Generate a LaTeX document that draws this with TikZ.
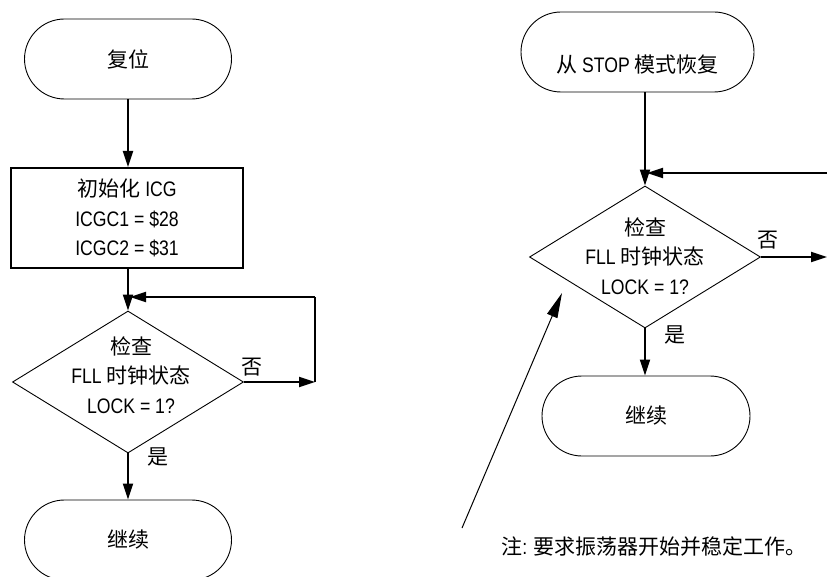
\documentclass[tikz,border=0pt]{standalone}
\usepackage{fontspec}
\setmainfont{Liberation Sans}[FakeStretch=0.84]
\newfontfamily\cjk{Noto Sans CJK SC}
\newcommand{\zh}[1]{{\cjk #1}}
\usetikzlibrary{shapes.geometric,arrows.meta}
\begin{document}
\begin{tikzpicture}[x=1pt,y=-1pt,
  every node/.style={font=\fontsize{21}{29.5}\selectfont, inner sep=0pt},
  term/.style={draw, line width=0.9pt, rounded corners=40pt, minimum height=80pt},
  procbox/.style={draw, line width=2pt, minimum width=232pt, minimum height=100pt, align=center},
  dia/.style={draw, diamond, line width=0.9pt, minimum width=231pt, minimum height=142pt, inner sep=0pt},
  ttext/.style={align=center},
  conn/.style={line width=2pt, -{Triangle[length=16pt,width=10pt]}},
  plain/.style={line width=2pt},
  notearrow/.style={line width=1pt, -{Triangle[length=25pt,width=11pt]}}
]
\useasboundingbox (0,0) rectangle (827,577);

% ---------- left flow ----------
\node[term, minimum width=207pt] (t1) at (128,59) {\zh{复位}};
\node[procbox] (r1) at (127,218) {\zh{初始化} ICG\\ICGC1 = \$28\\ICGC2 = \$31};
\node[dia] (d1) at (128,382) {};
\node[ttext] (d1t) at (131,375) {\zh{检查}\\FLL \zh{时钟状态}\\LOCK = 1?};
\node[term, minimum width=207pt] (t2) at (128,540) {\zh{继续}};

\coordinate (l1a) at (315,382);
\coordinate (l1b) at (315,297);
\coordinate (l1c) at (130,297);

\draw[conn] (t1.south -| d1.north) -- (r1.north -| d1.north);
\draw[conn] (r1.south -| d1.north) -- (d1.north);
\draw[conn] (d1.east) -- (l1a);
\draw[plain] (l1a) -- (l1b);
\draw[conn] (l1b) -- (l1c);
\draw[conn] (d1.south) -- (t2.north -| d1.south);

\node (no1) at (252,367) {\zh{否}};
\node (yes1) at (158,457) {\zh{是}};

% ---------- right flow ----------
\node[term, minimum width=233pt] (t3) at (637.5,52) {};
\node[ttext] (t3t) at (637.5,65) {\zh{从} STOP \zh{模式恢复}};
\node[dia] (d2) at (645,257) {};
\node[ttext] (d2t) at (645,256) {\zh{检查}\\FLL \zh{时钟状态}\\LOCK = 1?};
\node[term, minimum width=208pt] (t4) at (646,416) {\zh{继续}};

\coordinate (in2) at (828,173);
\coordinate (out2) at (827,257);

\draw[conn] (t3.south -| d2.north) -- (d2.north);
\draw[conn] (in2) -- ([xshift=2pt]d2.north |- in2);
\draw[conn] (d2.east) -- (out2);
\draw[conn] (d2.south) -- (t4.north -| d2.south);

\node (no2) at (768,240) {\zh{否}};
\node (yes2) at (675,335) {\zh{是}};

% ---------- note ----------
\coordinate (n0) at (462,528);
\coordinate (n1) at (562,293);
\draw[notearrow] (n0) -- (n1);
\node (note) at (654,547) {\zh{注}: \zh{要求振荡器开始并稳定工作。}};
\end{tikzpicture}
\end{document}
